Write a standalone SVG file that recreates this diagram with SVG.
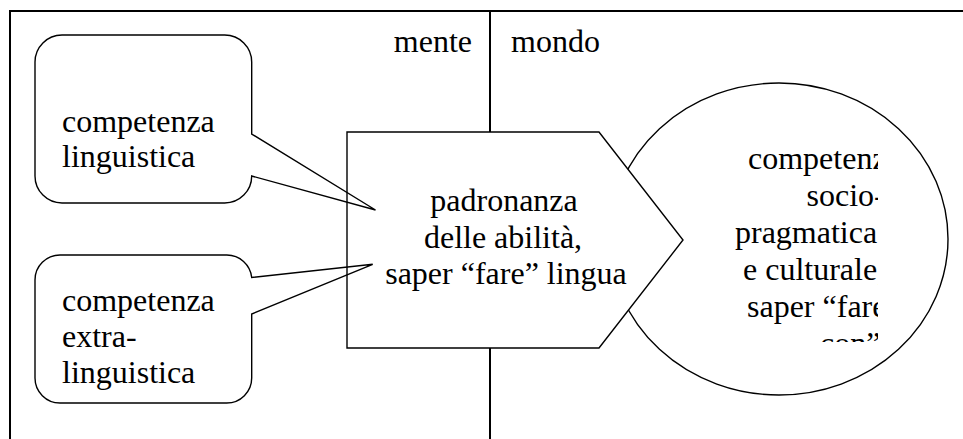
<svg xmlns="http://www.w3.org/2000/svg" width="963" height="439" viewBox="0 0 963 439" font-family="'Liberation Serif', 'DejaVu Serif', serif" font-size="32">
  <style>
    text { font-family: 'Liberation Serif', 'DejaVu Serif', serif; font-size: 32px; fill: #000; }
    .frame { stroke: #000; stroke-width: 2; fill: none; }
    .shape { stroke: #000; stroke-width: 1.4; fill: #fff; stroke-linejoin: miter; }
    .callout { stroke: #000; stroke-width: 1.4; fill: none; }
  </style>
  <defs>
    <clipPath id="ellText">
      <rect x="700" y="120" width="178" height="222"/>
    </clipPath>
  </defs>
  <rect width="963" height="439" fill="#fff"/>

  <g id="frame">
    <line class="frame" x1="10" y1="11" x2="963" y2="11"/>
    <line class="frame" x1="10" y1="10" x2="10" y2="439"/>
    <line class="frame" x1="490" y1="11" x2="490" y2="439"/>
    <text x="472" y="52" text-anchor="end">mente</text>
    <text x="511" y="52">mondo</text>
  </g>

  <g id="node-competenza-socio">
    <ellipse class="shape" cx="779" cy="239" rx="169" ry="156"/>
    <g clip-path="url(#ellText)">
      <text x="748" y="168.5">competenza</text>
      <text x="806.5" y="206">socio-</text>
      <text x="735" y="243">pragmatica</text>
      <text x="743" y="280">e culturale,</text>
      <text x="747" y="317">saper “fare</text>
      <text x="820" y="354">con”</text>
    </g>
  </g>

  <g id="node-padronanza">
    <polygon class="shape" points="347,132 599,132 683,240 599,348 347,348"/>
    <text x="504" y="211" text-anchor="middle">padronanza</text>
    <text x="503" y="247.5" text-anchor="middle">delle abilità,</text>
    <text x="506" y="284" text-anchor="middle">saper “fare” lingua</text>
  </g>

  <g id="node-competenza-linguistica">
    <path class="callout" d="M62,35 H224.7 A27,27 0 0 1 251.7,62 V134 L375.5,210 L251.7,176 A27,27 0 0 1 224.7,203 H62 A27,27 0 0 1 35,176 V62 A27,27 0 0 1 62,35 Z"/>
    <text x="62" y="131.5">competenza</text>
    <text x="62" y="167">linguistica</text>
  </g>

  <g id="node-competenza-extralinguistica">
    <path class="callout" d="M60,255 H226.7 A25,25 0 0 1 251.7,277.5 L372.7,264.3 L251.7,314 V378 A25,25 0 0 1 226.7,403 H60 A25,25 0 0 1 35,378 V280 A25,25 0 0 1 60,255 Z"/>
    <text x="62" y="311">competenza</text>
    <text x="62" y="347">extra-</text>
    <text x="62" y="383">linguistica</text>
  </g>
</svg>
